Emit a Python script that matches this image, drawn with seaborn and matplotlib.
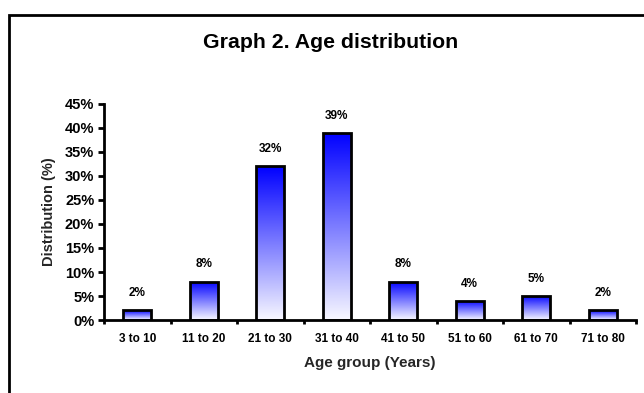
import numpy as np
import pandas as pd
import matplotlib
matplotlib.use("Agg")
import matplotlib.pyplot as plt
from matplotlib.patches import Rectangle
from matplotlib.colors import LinearSegmentedColormap
from matplotlib.ticker import FixedLocator, PercentFormatter
import seaborn as sns

age_groups = ["3 to 10", "11 to 20", "21 to 30", "31 to 40",
              "41 to 50", "51 to 60", "61 to 70", "71 to 80"]
distribution = [2, 8, 32, 39, 8, 4, 5, 2]
y_ticks = [0, 5, 10, 15, 20, 25, 30, 35, 40, 45]

sns.set_theme(style="white")
plt.rcParams["font.family"] = ["Liberation Sans", "DejaVu Sans"]
plt.rcParams["font.weight"] = "bold"

df = pd.DataFrame({"age": age_groups, "pct": distribution})

fig = plt.figure(figsize=(6.44, 3.93), dpi=100)
ax = fig.add_axes([104 / 644, 1 - 320 / 393, (636 - 104) / 644, (320 - 104) / 393])

sns.barplot(data=df, x="age", y="pct", ax=ax, width=0.42,
            color="white", edgecolor="black", linewidth=2, zorder=3)

# blue-to-white gradient inside each bar
cmap = LinearSegmentedColormap.from_list("bw", ["#f8f8ff", "#0000ff"])
grad = np.linspace(0, 1, 256).reshape(-1, 1)
for patch in ax.patches:
    x0, y0 = patch.get_x(), patch.get_y()
    w, h = patch.get_width(), patch.get_height()
    patch.set_facecolor("none")
    im = ax.imshow(grad, cmap=cmap, origin="lower", aspect="auto",
                   extent=[x0, x0 + w, y0, y0 + h], zorder=2.5,
                   interpolation="bilinear")
    im.set_clip_path(patch)

for patch, v in zip(ax.patches, distribution):
    ax.annotate(f"{v}%", (patch.get_x() + patch.get_width() / 2, patch.get_height()),
                xytext=(0, 8), textcoords="offset points", ha="center", va="bottom",
                fontsize=8.5, fontweight="bold", color="black")

n = len(age_groups)
ax.set_xlim(-0.5, n - 0.5)
ax.set_ylim(0, 45)
ax.yaxis.set_major_locator(FixedLocator(y_ticks))
ax.yaxis.set_major_formatter(PercentFormatter(decimals=0))
ax.xaxis.set_minor_locator(FixedLocator(np.arange(-0.5, n, 1.0)))
ax.tick_params(axis="x", which="major", length=0, pad=9, labelsize=8.5, colors="black")
ax.tick_params(axis="x", which="minor", bottom=True, length=3, width=2, color="black")
ax.tick_params(axis="y", which="major", left=True, length=4, width=2, pad=3,
               labelsize=10.5, colors="black")
for lbl in ax.get_xticklabels() + ax.get_yticklabels():
    lbl.set_fontweight("bold")

for side in ["top", "right"]:
    ax.spines[side].set_visible(False)
for side in ["left", "bottom"]:
    ax.spines[side].set_color("black")
    ax.spines[side].set_linewidth(2)

ax.set_xlabel("Age group (Years)", fontsize=11, fontweight="bold", labelpad=8)
ax.set_ylabel("Distribution (%)", fontsize=10.5, fontweight="bold", labelpad=6)
ax.set_facecolor("white")

fig.text(331 / 644, 1 - 42 / 393, "Graph 2. Age distribution", ha="center", va="center",
         fontsize=15.3, fontweight="bold", color="black")

# chart area frame
fig.patches.append(Rectangle((9 / 644, -0.1), 1.2, 1.1 - 15 / 393,
                             transform=fig.transFigure, fill=False,
                             edgecolor="black", linewidth=2, zorder=0))

fig.savefig("out.png", dpi=100, facecolor="white")
